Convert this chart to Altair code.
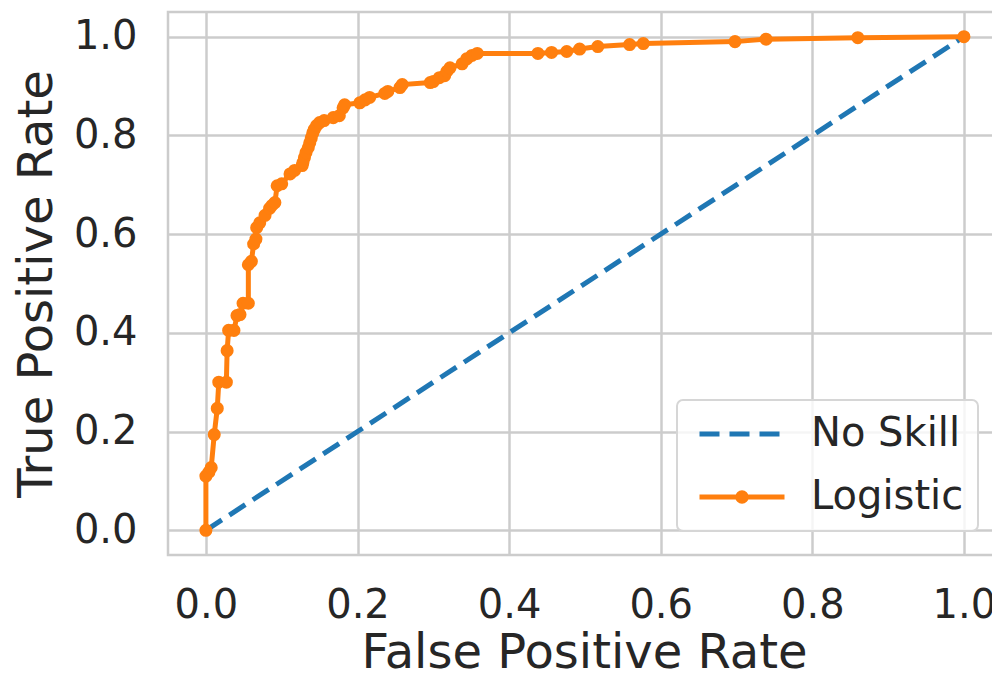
import altair as alt
import pandas as pd

# ROC curve of the logistic model
logistic_fpr = [0.000, 0.000, 0.004, 0.007, 0.011, 0.015, 0.017, 0.027, 0.028, 0.030,
                0.037, 0.041, 0.045, 0.049, 0.056, 0.056, 0.060, 0.063, 0.066, 0.067,
                0.071, 0.078, 0.084, 0.087, 0.091, 0.094, 0.100, 0.111, 0.117, 0.127,
                0.128, 0.130, 0.132, 0.135, 0.137, 0.139, 0.141, 0.143, 0.146, 0.150,
                0.156, 0.168, 0.176, 0.181, 0.183, 0.203, 0.210, 0.216, 0.236, 0.240,
                0.256, 0.259, 0.296, 0.300, 0.308, 0.315, 0.318, 0.322, 0.338, 0.344,
                0.351, 0.358, 0.438, 0.456, 0.476, 0.493, 0.517, 0.559, 0.577, 0.698,
                0.739, 0.860, 1.000]
logistic_tpr = [0.000, 0.110, 0.118, 0.127, 0.194, 0.247, 0.300, 0.300, 0.364, 0.405,
                0.405, 0.435, 0.437, 0.460, 0.460, 0.538, 0.545, 0.580, 0.590, 0.613,
                0.623, 0.638, 0.652, 0.658, 0.664, 0.698, 0.702, 0.722, 0.729, 0.739,
                0.745, 0.755, 0.765, 0.775, 0.785, 0.795, 0.805, 0.812, 0.820, 0.826,
                0.830, 0.836, 0.840, 0.856, 0.862, 0.866, 0.872, 0.877, 0.885, 0.889,
                0.897, 0.903, 0.907, 0.909, 0.917, 0.921, 0.930, 0.937, 0.945, 0.955,
                0.962, 0.966, 0.966, 0.968, 0.970, 0.975, 0.980, 0.984, 0.986, 0.990,
                0.995, 0.998, 1.000]

# No-skill diagonal
noskill_fpr = [0.0, 1.0]
noskill_tpr = [0.0, 1.0]

series_names = ["No Skill", "Logistic"]
series_colors = ["#1f77b4", "#ff7f0e"]
tick_values = [0.0, 0.2, 0.4, 0.6, 0.8, 1.0]

# legend glyphs (path units of 10 px): dashed line, and line with a dot
legend_shapes = [
    "M-4.25,0H-2.25M-1.25,0H0.75M1.75,0H3.75",
    "M-4.25,0H4.25M-0.42,0A0.42,0.42,0,1,1,0.42,0A0.42,0.42,0,1,1,-0.42,0Z",
]

FONT = "DejaVu Sans"
TEXT = "#262626"

roc = pd.DataFrame({"fpr": logistic_fpr, "tpr": logistic_tpr, "series": "Logistic"})
roc["idx"] = range(len(roc))
ns = pd.DataFrame({"fpr": noskill_fpr, "tpr": noskill_tpr, "series": "No Skill"})
ns["idx"] = range(len(ns))
both = pd.concat([ns, roc], ignore_index=True)

xs = alt.Scale(domain=[-0.05, 1.0476], nice=False, zero=False)
ys = alt.Scale(domain=[-0.05, 1.05], nice=False, zero=False)

x_enc = alt.X("fpr:Q", scale=xs,
              axis=alt.Axis(values=tick_values, format=".1f", title="False Positive Rate",
                            labelPadding=30, titlePadding=4))
y_enc = alt.Y("tpr:Q", scale=ys,
              axis=alt.Axis(values=tick_values, format=".1f", title="True Positive Rate",
                            labelPadding=31, titlePadding=12))

noskill_line = alt.Chart(ns).mark_line(
    color=series_colors[0], strokeWidth=5, strokeDash=[19, 9]
).encode(x=x_enc, y=y_enc, order="idx:Q")

logistic_line = alt.Chart(roc).mark_line(
    color=series_colors[1], strokeWidth=5
).encode(x=x_enc, y=y_enc, order="idx:Q")

logistic_pts = alt.Chart(roc).mark_circle(
    color=series_colors[1], size=170, opacity=1
).encode(x=x_enc, y=y_enc)

legend_layer = alt.Chart(both).mark_point(
    opacity=0, filled=False, strokeWidth=5
).encode(
    x=x_enc, y=y_enc,
    color=alt.Color("series:N",
                    scale=alt.Scale(domain=series_names, range=series_colors),
                    legend=alt.Legend(
                        title=None, orient="none", legendX=509, legendY=388,
                        labelFontSize=40, labelFont=FONT, labelColor=TEXT,
                        symbolSize=400, symbolOffset=31, labelOffset=49,
                        symbolStrokeWidth=5, symbolOpacity=1,
                        padding=14, rowPadding=23,
                        fillColor="rgba(255,255,255,0.8)", strokeColor="#d6d6d6",
                        cornerRadius=6, labelLimit=400)),
    shape=alt.Shape("series:N",
                    scale=alt.Scale(domain=series_names, range=legend_shapes)),
)

chart = alt.layer(noskill_line, logistic_line, logistic_pts, legend_layer).properties(
    width=832, height=543,
    autosize=alt.AutoSizeParams(type="none"),
    padding={"left": 160, "top": 4, "right": -8, "bottom": 114},
    background="white",
).configure_view(
    stroke="#cccccc", strokeWidth=2.5
).configure_axis(
    domain=False, ticks=False, grid=True, gridColor="#cccccc", gridWidth=2.5,
    labelFont=FONT, labelFontSize=40, labelColor=TEXT,
    titleFont=FONT, titleFontSize=48, titleColor=TEXT, titleFontWeight="normal",
).configure_legend(
    strokeWidth=2
)

chart.save("out.html", embed_options={"renderer": "svg", "actions": False})
